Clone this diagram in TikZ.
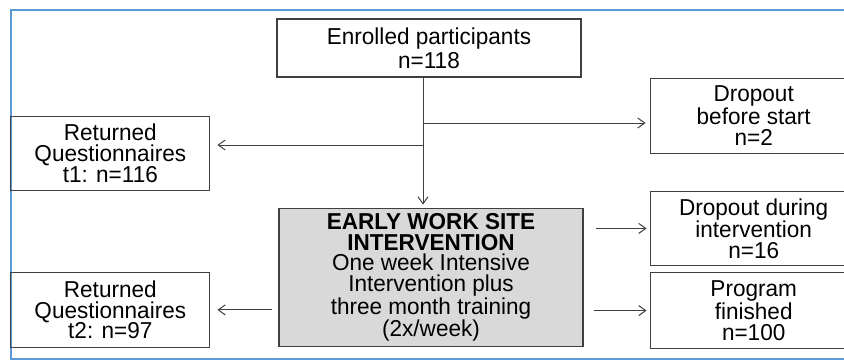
\documentclass[tikz,border=0pt]{standalone}
\usepackage{fontspec}
\setmainfont[FakeStretch=0.98]{Liberation Sans}
\usetikzlibrary{arrows.meta,positioning}
\definecolor{framecol}{RGB}{91,155,213}
\definecolor{linecol}{RGB}{64,64,64}
\definecolor{boxfill}{RGB}{217,217,217}
\tikzset{
    %Define standard arrow tip
    >={Straight Barb[length=7pt,width=10pt]},
    %Define style for boxes
    flowbox/.style={
           rectangle,
           draw=linecol, line width=1.2pt,
           inner sep=2pt,
           font=\fontsize{23}{20.8}\selectfont,
           align=center,
           },
    sidebox/.style={
           flowbox,
           minimum width=207pt,
           },
    % Define arrow style
    pil/.style={
           ->,
           draw=linecol, line width=1pt,},
}
\begin{document}
\begin{tikzpicture}[x=1pt,y=1pt,node distance=30pt]
\clip (0,0) rectangle (844,-361);
\draw[framecol, line width=2pt] (11,-10) rectangle (880,-359);
\node[flowbox, minimum width=304pt, minimum height=58pt, font=\fontsize{23}{24}\selectfont](enrolled) at (429,-48){Enrolled participants\\n=118};
\node[flowbox, fill=boxfill, minimum width=304pt, minimum height=138pt, below=130pt of enrolled, xshift=2pt](interv){\textbf{EARLY WORK SITE}\\\textbf{INTERVENTION}\\One week Intensive\\Intervention plus\\three month training\\(2x/week)};
\node[flowbox, minimum width=199pt, minimum height=74pt, below left=38pt and 66pt of enrolled](returnA){Returned\\Questionnaires\\t1: n=116};
\node[flowbox, minimum width=199pt, minimum height=75pt, below=81pt of returnA](returnB){Returned\\Questionnaires\\t2: n=97};
\node[sidebox, minimum height=75pt, below right=0pt and 68pt of enrolled](dropA){Dropout\\before start\\n=2};
\node[sidebox, minimum height=74pt, below=37pt of dropA](dropB){Dropout during\\intervention\\n=16};
\node[sidebox, minimum height=76pt, below=6pt of dropB](finish){Program\\finished\\n=100};
\coordinate (trunk) at ([xshift=-6pt]enrolled.south);
\coordinate (splitA) at (trunk |- 0,-123);
\coordinate (splitB) at (trunk |- 0,-145);
\draw[pil, shorten >=3pt] (trunk) -- (trunk |- interv.north);
\draw[pil, shorten >=4pt] (splitA) -- (splitA -| dropA.west);
\draw[pil, shorten >=7pt] (splitB) -- (splitB -| returnA.east);
\draw[pil, shorten <=12pt, shorten >=3pt] (interv.east |- dropB.west) -- (dropB.west);
\draw[pil, shorten <=10pt, shorten >=3pt] (interv.east |- finish.west) -- (finish.west);
\draw[pil, shorten <=6pt, shorten >=7pt] (interv.west |- returnB.east) -- (returnB.east);
\end{tikzpicture}
\end{document}
